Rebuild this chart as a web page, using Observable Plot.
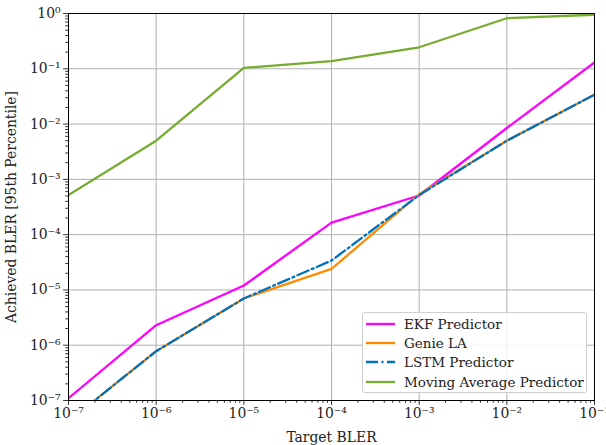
<!DOCTYPE html>
<html>
<head>
<meta charset="utf-8">
<script src="https://cdn.jsdelivr.net/npm/d3@7"></script>
<script src="https://cdn.jsdelivr.net/npm/@observablehq/plot@0.6"></script>
<style>
  body { margin: 0; background: white; }
  #wrap { position: relative; width: 606px; height: 445px; font-family: "DejaVu Serif", serif; }
  #legend { position: absolute; left: 362px; top: 312px; width: 225px; height: 81px; border: 1px solid #d0d0d0; border-radius: 3px; background: rgba(255,255,255,0.85); box-sizing: border-box; padding-top: 1px; }
  .row { display: flex; align-items: center; height: 19.4px; font-family: "DejaVu Serif", serif; font-size: 13.5px; color: #222; white-space: nowrap; }
  .row svg { margin-left: 3px; margin-right: 9px; flex: none; }
</style>
</head>
<body>
<div id="wrap"></div>
<script>
const targetBLER = [1e-7, 1e-6, 1e-5, 1e-4, 1e-3, 1e-2, 1e-1];
const ekf = [1.1e-7, 2.3e-6, 1.2e-5, 1.65e-4, 5.1e-4, 8.5e-3, 0.13];
const genie = [4.2e-8, 7.8e-7, 7.0e-6, 2.4e-5, 5.4e-4, 5.0e-3, 0.034];
const lstm = [4.2e-8, 7.8e-7, 7.0e-6, 3.4e-5, 5.2e-4, 5.0e-3, 0.034];
const movingAvg = [5.2e-4, 5.0e-3, 0.104, 0.138, 0.245, 0.82, 0.95];
const seriesNames = ["EKF Predictor", "Genie LA", "LSTM Predictor", "Moving Average Predictor"];
const seriesColors = ["#ff00ff", "#ff8c00", "#0072bd", "#77ac30"];
const xTickExps = [-7, -6, -5, -4, -3, -2, -1];
const yTickExps = [-7, -6, -5, -4, -3, -2, -1, 0];

const supMap = {"-": "\u207b", "0": "\u2070", "1": "\u00b9", "2": "\u00b2", "3": "\u00b3", "4": "\u2074", "5": "\u2075", "6": "\u2076", "7": "\u2077", "8": "\u2078", "9": "\u2079"};
const fmt = v => "10" + String(Math.round(Math.log10(v))).split("").map(c => supMap[c]).join("");

const xMajor = xTickExps.map(e => Math.pow(10, e));
const yMajor = yTickExps.map(e => Math.pow(10, e));
const minors = exps => exps.slice(0, -1).flatMap(e => [2,3,4,5,6,7,8,9].map(m => m * Math.pow(10, e)));
const xMinor = minors(xTickExps);
const yMinor = minors(yTickExps);

const valuesBySeries = [ekf, genie, lstm, movingAvg];
const data = valuesBySeries.flatMap((vals, i) => vals.map((v, j) => ({x: targetBLER[j], y: v, s: seriesNames[i]})));
const sub = name => data.filter(d => d.s === name);

const font = "DejaVu Serif";
const chart = Plot.plot({
  width: 606,
  height: 445,
  marginLeft: 68,
  marginRight: 12,
  marginTop: 13,
  marginBottom: 45,
  style: {fontFamily: font, fontSize: "13.9px", color: "#222", background: "white"},
  x: {type: "log", domain: [1e-7, 1e-1]},
  y: {type: "log", domain: [1e-7, 1]},
  marks: [
    Plot.gridX(xMajor, {stroke: "#b0b0b0", strokeOpacity: 1, strokeWidth: 1}),
    Plot.gridY(yMajor, {stroke: "#b0b0b0", strokeOpacity: 1, strokeWidth: 1}),
    Plot.axisX(xMinor, {tickSize: 2.8, tickFormat: null, label: null, stroke: "black", strokeWidth: 0.8}),
    Plot.axisY(yMinor, {tickSize: 2.8, tickFormat: null, label: null, stroke: "black", strokeWidth: 0.8}),
    Plot.axisX(xMajor, {tickSize: 4.9, tickPadding: 3, tickFormat: fmt, label: "Target BLER", labelAnchor: "center", labelArrow: "none", labelOffset: 41, fontSize: 13.9, stroke: "black", strokeWidth: 0.8}),
    Plot.axisY(yMajor, {tickSize: 4.9, tickPadding: 3, tickFormat: fmt, label: "Achieved BLER [95th Percentile]", labelAnchor: "center", labelArrow: "none", labelOffset: 62, fontSize: 13.9, stroke: "black", strokeWidth: 0.8}),
    Plot.line(sub("EKF Predictor"), {x: "x", y: "y", stroke: seriesColors[0], strokeWidth: 2.3, clip: true}),
    Plot.line(sub("Genie LA"), {x: "x", y: "y", stroke: seriesColors[1], strokeWidth: 2.3, clip: true}),
    Plot.line(sub("LSTM Predictor"), {x: "x", y: "y", stroke: seriesColors[2], strokeWidth: 2.3, strokeDasharray: "12,3.5,2,3.5", clip: true}),
    Plot.line(sub("Moving Average Predictor"), {x: "x", y: "y", stroke: seriesColors[3], strokeWidth: 2.3, clip: true}),
    Plot.frame({stroke: "black", strokeWidth: 1})
  ]
});
const wrap = document.getElementById("wrap");
wrap.appendChild(chart);

const legend = document.createElement("div");
legend.id = "legend";
seriesNames.forEach((name, i) => {
  const row = document.createElement("div");
  row.className = "row";
  const dash = i === 2 ? ' stroke-dasharray="12,3.5,2,3.5"' : "";
  row.innerHTML = `<svg width="29" height="6"><line x1="0" y1="3" x2="29" y2="3" stroke="${seriesColors[i]}" stroke-width="2.3"${dash}/></svg><span>${name}</span>`;
  legend.appendChild(row);
});
wrap.appendChild(legend);
</script>
</body>
</html>
